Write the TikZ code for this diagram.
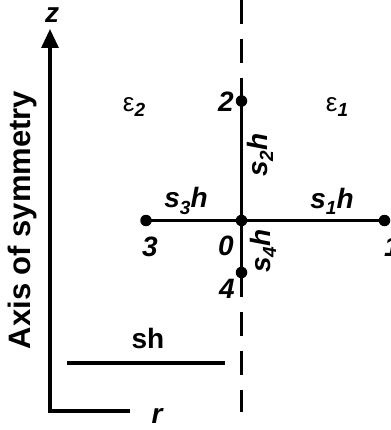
\documentclass[tikz,border=0pt]{standalone}
\usepackage{fontspec}
\setmainfont{Liberation Sans}
\usetikzlibrary{arrows.meta}
\newcommand\sbs[1]{\raisebox{-0.22em}{\fontsize{19}{19}\selectfont #1}}
\begin{document}
\begin{tikzpicture}[x=1pt,y=-1pt,
  ln/.style={line width=3.2pt},
  dot/.style={circle,fill=black,inner sep=0pt,minimum size=11.5pt},
  lbl/.style={font=\fontsize{28}{32}\selectfont\bfseries\itshape,inner sep=0pt},
  lblup/.style={font=\fontsize{28}{32}\selectfont\bfseries,inner sep=0pt},
  eps/.style={font=\fontsize{26}{30}\selectfont,inner sep=0pt},
  axl/.style={font=\fontsize{31}{36}\selectfont\bfseries,inner sep=0pt}]
\useasboundingbox (0,0) rectangle (390,430);
% points
\node[dot] (p0) at (241.5,220.5) {};
\node[dot] (p1) at (384.5,220.5) {};
\node[dot] (p2) at (241.5,101) {};
\node[dot] (p3) at (146,220.5) {};
\node[dot] (p4) at (241.5,272.5) {};
\coordinate (dtop) at (241.5,0);
\coordinate (dbot) at (241.5,412);
\draw[ln, dash pattern=on 24pt off 15pt] (dtop) -- (dbot);
\draw[ln] (p2.center) -- (p4.center);
\draw[ln] (p3.center) -- (p1.center);
% axes
\coordinate (o) at (50,411);
\coordinate (ztip) at (50,29);
\coordinate (rend) at (130,411);
\draw[ln, -{Triangle[length=19pt,width=17pt]}] (rend) -- (o) -- (ztip);
% sh line
\coordinate (sha) at (67,363);
\coordinate (shb) at (225,363);
\draw[ln] (sha) -- (shb);
% labels
\node[lbl] (l2) at (226,102) {2};
\node[lbl,rotate=90] (ls2) at (260,155) {s\sbs{2}h};
\node[lbl] (ls3) at (186,201) {s\sbs{3}h};
\node[lbl] (ls1) at (332,201) {s\sbs{1}h};
\node[lbl] (l3) at (150,247) {3};
\node[lbl] (l0) at (226,246) {0};
\node[lbl] (l1) at (392,247) {1};
\node[lbl,rotate=90] (ls4) at (263,251) {s\sbs{4}h};
\node[lbl] (l4) at (227,289) {4};
\node[lblup] (lsh) at (148,338) {sh};
\node[lbl] (lz) at (52,15) {z};
\node[lbl] (lr) at (157,416) {r};
\node[eps] (le2) at (134,107) {ε\sbs{\bfseries\itshape 2}};
\node[eps] (le1) at (337,107) {ε\sbs{\bfseries\itshape 1}};
\node[axl,rotate=90] (lax) at (22,220) {Axis of symmetry};
\end{tikzpicture}
\end{document}
